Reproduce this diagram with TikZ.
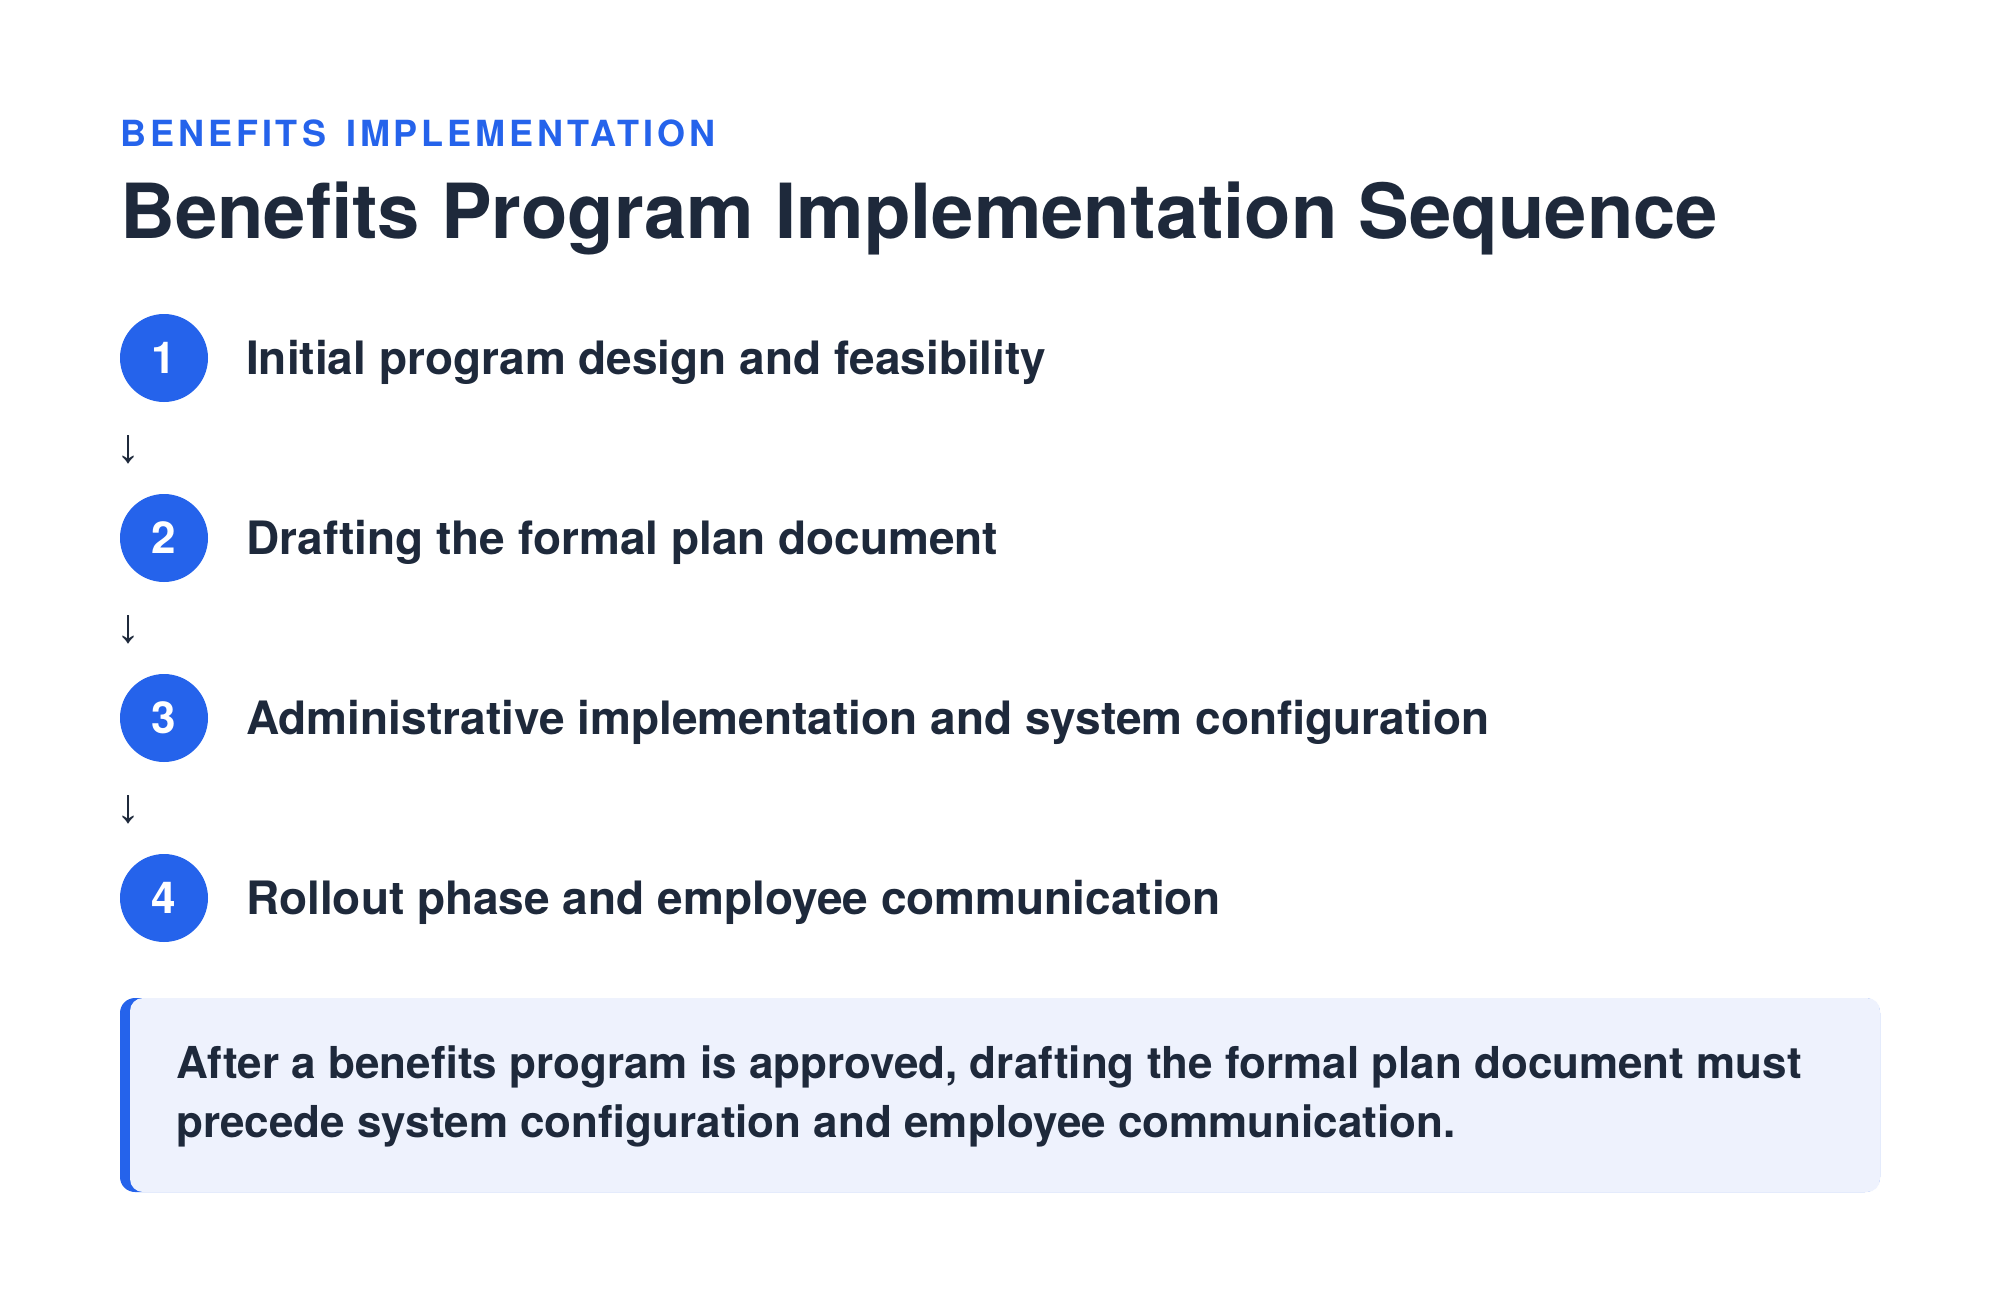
\documentclass[tikz,border=0pt]{standalone}
\usepackage{fontspec}
\setmainfont{TeX Gyre Heros}
\newfontfamily\arrowfont{Liberation Sans}
\definecolor{accent}{HTML}{2563EB}
\definecolor{ink}{HTML}{1E293B}
\definecolor{notebg}{HTML}{EEF2FD}
\tikzset{
  kicker/.style={anchor=base west, inner sep=0, text=accent,
    font=\fontsize{36}{40}\selectfont\bfseries\addfontfeature{LetterSpace=11}},
  headline/.style={anchor=base west, inner sep=0, text=ink,
    font=\fontsize{76}{90}\selectfont\bfseries},
  stepnum/.style={circle, fill=accent, text=white, minimum size=88pt, inner sep=0,
    font=\fontsize{44}{44}\selectfont\bfseries},
  steplabel/.style={anchor=base west, inner sep=0, text=ink,
    font=\fontsize{46}{50}\selectfont\bfseries},
  flowarrow/.style={inner sep=0, text=ink, font=\arrowfont\fontsize{48}{48}\selectfont},
  notetext/.style={anchor=base west, inner sep=0, text=ink, align=left,
    font=\fontsize{44}{59}\selectfont\bfseries},
}
\begin{document}
\begin{tikzpicture}[x=1pt,y=-1pt]
\useasboundingbox[fill=white] (0,0) rectangle (2000,1306);
\node[kicker] (kick) at (120,146) {BENEFITS\hspace{6pt} IMPLEMENTATION};
\node[headline] (title) at (120,238) {Benefits Program Implementation Sequence};
\node[stepnum] (s1) at (164,358) {1};
\node[stepnum] (s2) at (164,538) {2};
\node[stepnum] (s3) at (164,718) {3};
\node[stepnum] (s4) at (164,898) {4};
\node[steplabel] (t1) at (246,374) {Initial program design and feasibility};
\node[steplabel] (t2) at (246,554) {Drafting the formal plan document};
\node[steplabel] (t3) at (246,734) {Administrative implementation and system configuration};
\node[steplabel] (t4) at (246,914) {Rollout phase and employee communication};
\node[flowarrow] (a1) at (128,450) {↓};
\node[flowarrow] (a2) at (128,630) {↓};
\node[flowarrow] (a3) at (128,810) {↓};
\fill[accent, rounded corners=15pt] (120,998) rectangle (1880,1192);
\fill[notebg, rounded corners=13pt] (130,998) rectangle (1880,1192);
\node[notetext] (note) at (176,1137) {After a benefits program is approved, drafting the formal plan document must\\precede system configuration and employee communication.};
\end{tikzpicture}
\end{document}
